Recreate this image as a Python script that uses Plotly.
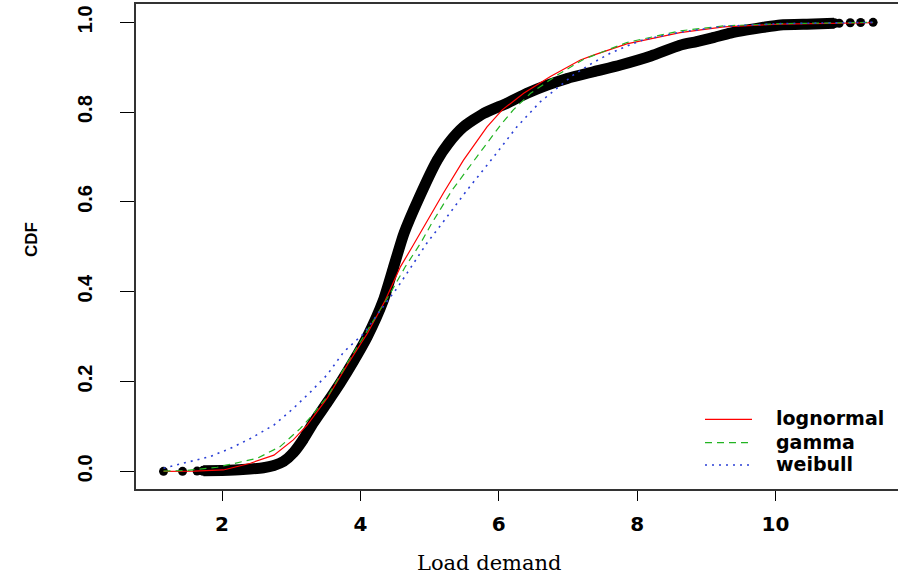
import plotly.graph_objects as go

# ---------------- data ----------------
# empirical CDF, dense band of points
ecdf_x = [1.73, 2.00, 2.30, 2.60, 2.75, 2.89, 3.03, 3.17, 3.32, 3.52, 3.71, 3.90,
          4.10, 4.33, 4.48, 4.63, 4.85, 5.11, 5.27, 5.49, 5.78, 6.12, 6.41, 6.70,
          6.99, 7.37, 7.76, 8.20, 8.62, 8.86, 9.10, 9.35, 9.59, 9.83, 10.07, 10.55, 10.85]
ecdf_y = [0.001, 0.002, 0.004, 0.008, 0.013, 0.022, 0.041, 0.070, 0.108, 0.153, 0.197, 0.245,
          0.300, 0.380, 0.455, 0.530, 0.610, 0.693, 0.730, 0.767, 0.797, 0.820, 0.842, 0.860,
          0.875, 0.890, 0.905, 0.925, 0.949, 0.957, 0.966, 0.976, 0.983, 0.989, 0.994, 0.996, 0.998]
# isolated empirical points at both ends
ecdf_end_x = [1.155, 1.43, 1.64, 10.92, 11.08, 11.23, 11.41]
ecdf_end_y = [0.000, 0.000, 0.0005, 0.998, 0.999, 0.9995, 1.000]

lnorm_x = [1.155, 1.60, 2.02, 2.41, 2.75, 3.03, 3.23, 3.52, 3.81, 4.10, 4.36, 4.58, 4.75,
           4.99, 5.20, 5.49, 5.83, 6.05, 6.36, 6.74, 7.18, 7.37, 7.85, 8.62, 9.25, 10.07, 11.41]
lnorm_y = [0.000, 0.0006, 0.003, 0.018, 0.036, 0.070, 0.103, 0.163, 0.237, 0.307, 0.381, 0.456, 0.500,
           0.565, 0.620, 0.693, 0.767, 0.805, 0.842, 0.879, 0.916, 0.927, 0.952, 0.977, 0.990, 0.996, 0.999]

gamma_x = [1.155, 1.50, 1.93, 2.51, 2.84, 3.13, 3.32, 3.54, 3.81, 3.95, 4.22, 4.43, 4.65, 4.87,
           5.03, 5.18, 5.32, 5.68, 6.02, 6.21, 6.46, 6.84, 7.23, 7.85, 8.62, 9.25, 10.07, 11.41]
gamma_y = [0.0005, 0.002, 0.009, 0.029, 0.055, 0.095, 0.128, 0.170, 0.241, 0.276, 0.344, 0.396, 0.456, 0.508,
           0.552, 0.589, 0.625, 0.700, 0.770, 0.805, 0.842, 0.882, 0.918, 0.955, 0.981, 0.992, 0.997, 1.000]

weib_x = [1.155, 1.23, 1.54, 1.83, 2.12, 2.41, 2.75, 3.03, 3.28, 3.52, 3.76, 4.05, 4.29, 4.53,
          4.75, 4.96, 5.18, 5.54, 5.93, 6.26, 6.60, 6.89, 7.08, 7.35, 7.61, 7.90, 8.09, 8.62,
          9.25, 10.07, 11.41]
weib_y = [0.007, 0.010, 0.021, 0.033, 0.051, 0.073, 0.103, 0.140, 0.177, 0.215, 0.266, 0.307, 0.359, 0.408,
          0.459, 0.508, 0.552, 0.626, 0.701, 0.767, 0.823, 0.860, 0.883, 0.909, 0.931, 0.950, 0.961, 0.978,
          0.991, 0.997, 1.000]

x_ticks = [2, 4, 6, 8, 10]
y_ticks = [0.0, 0.2, 0.4, 0.6, 0.8, 1.0]
y_tick_text = ["0.0", "0.2", "0.4", "0.6", "0.8", "1.0"]
fit_names = ["lognormal", "gamma", "weibull"]
fit_colors = ["#ff0000", "#22b422", "#2a3fd6"]
fit_dash = ["solid", "7px,5px", "2px,5px"]

# ---------------- layout geometry (pixels) ----------------
W, H = 898, 577
L, R, T, B = 136, 0, 4, 88
PW, PH = W - L - R, H - T - B


def px2paper_x(px):
    return (px - L) / PW


def px2paper_y(py):
    return (H - B - py) / PH


fig = go.Figure()

fig.add_trace(go.Scatter(x=ecdf_x, y=ecdf_y, mode="lines+markers",
                         line=dict(color="black", width=11, shape="spline", smoothing=0.6),
                         marker=dict(color="black", size=10),
                         showlegend=False, hoverinfo="skip"))
fig.add_trace(go.Scatter(x=ecdf_end_x, y=ecdf_end_y, mode="markers",
                         marker=dict(color="black", size=9),
                         showlegend=False, hoverinfo="skip"))

for xs, ys, name, col, dash in zip([lnorm_x, gamma_x, weib_x], [lnorm_y, gamma_y, weib_y],
                                   fit_names, fit_colors, fit_dash):
    fig.add_trace(go.Scatter(x=xs, y=ys, mode="lines", name=name,
                             line=dict(color=col, width=1.2 if dash != "2px,5px" else 1.6, dash=dash),
                             showlegend=False))

# manual legend (no box), as in the R base graphics legend
leg_rows = [419.3, 442.7, 465.0]
shapes = []
annotations = []
for name, col, dash, ry in zip(fit_names, fit_colors, fit_dash, leg_rows):
    shapes.append(dict(type="line", xref="paper", yref="paper",
                       x0=px2paper_x(705), x1=px2paper_x(752),
                       y0=px2paper_y(ry), y1=px2paper_y(ry),
                       line=dict(color=col, width=1.3 if dash != "2px,5px" else 1.7, dash=dash)))
    annotations.append(dict(text=name, xref="paper", yref="paper",
                            x=px2paper_x(774), y=px2paper_y(ry - 1), xanchor="left", yanchor="middle",
                            showarrow=False,
                            font=dict(family="DejaVu Sans", size=19, color="black", weight="bold")))

annotations.append(dict(text="CDF", xref="paper", yref="paper", textangle=-90,
                        x=px2paper_x(31), y=px2paper_y(240), xanchor="center", yanchor="middle",
                        showarrow=False,
                        font=dict(family="Liberation Sans", size=17, color="black", weight="bold")))
annotations.append(dict(text="Load demand", xref="paper", yref="paper",
                        x=px2paper_x(489), y=px2paper_y(563), xanchor="center", yanchor="middle",
                        showarrow=False,
                        font=dict(family="DejaVu Serif", size=21, color="black")))

fig.update_layout(
    width=W, height=H,
    margin=dict(l=L, r=R, t=T, b=B, pad=0),
    paper_bgcolor="white", plot_bgcolor="white",
    showlegend=False,
    shapes=shapes, annotations=annotations,
    xaxis=dict(range=[0.757, 11.77], tickmode="array", tickvals=x_ticks,
               ticks="outside", ticklen=10, tickwidth=1, tickcolor="black",
               showline=True, linecolor="#333333", linewidth=1.5, mirror=True,
               showgrid=False, zeroline=False, ticklabelstandoff=6,
               tickfont=dict(family="DejaVu Sans", size=20, color="black", weight="bold")),
    yaxis=dict(range=[-0.0394, 1.0408], tickmode="array", tickvals=y_ticks, ticktext=y_tick_text,
               tickangle=-90,
               ticks="outside", ticklen=14, tickwidth=1, tickcolor="black",
               showline=True, linecolor="#333333", linewidth=1.5, mirror=False,
               showgrid=False, zeroline=False, ticklabelstandoff=20,
               tickfont=dict(family="Liberation Sans", size=20, color="black", weight="bold")),
)

# remove the browser's default 8px body margin so the figure starts at the window corner
fig.write_html("out.html", config={"displayModeBar": False},
               post_script="document.body.style.margin='0px';")
